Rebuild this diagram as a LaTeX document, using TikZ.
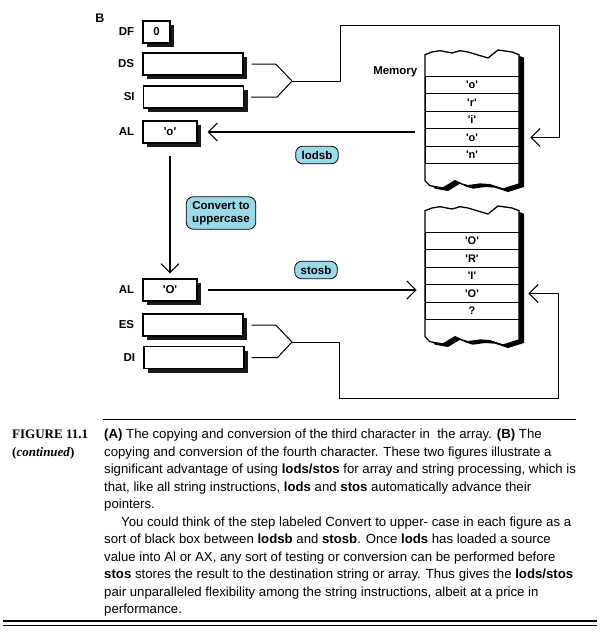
\documentclass[tikz,border=0pt]{standalone}
\usepackage{fontspec}
\setmainfont{Liberation Serif}
\setsansfont{Liberation Sans}
\usepackage{tikz}
\usetikzlibrary{arrows.meta,positioning,shadows}
\definecolor{bubble}{RGB}{153,217,234}
\newcommand{\sq}[1]{\textquotesingle#1\textquotesingle}

\begin{document}
\begin{tikzpicture}[
    x=1pt, y=-1pt,
    reg/.style={rectangle, draw, line width=1.3pt, fill=white, minimum height=22pt, inner sep=0pt, font=\sffamily\bfseries\fontsize{11.5}{13}\selectfont, drop shadow={fill=black, opacity=0.9, shadow xshift=4pt, shadow yshift=-4pt}},
    lbl/.style={font=\sffamily\bfseries\fontsize{11.5}{13}\selectfont, inner sep=0pt},
    cell/.style={rectangle, draw, line width=0.9pt, minimum width=94pt, minimum height=17.5pt, inner sep=0pt, font=\sffamily\bfseries\fontsize{11}{12}\selectfont},
    op/.style={rectangle, rounded corners=7pt, draw, line width=0.8pt, fill=bubble, inner xsep=6pt, inner ysep=4.5pt, align=center, font=\sffamily\bfseries\fontsize{11.5}{13}\selectfont},
    arr/.style={line width=1.7pt, -{Straight Barb[length=9pt, width=18pt, line width=1pt]}},
    wire/.style={line width=1pt},
    wirearr/.style={wire, -{Straight Barb[length=9pt, width=18pt, line width=1pt]}},
]
\useasboundingbox (0,0) rectangle (604,640);

\node[lbl, font=\sffamily\bfseries\fontsize{12.5}{14}\selectfont] (part) at (100,18) {B};

% registers
\node[reg, minimum width=27pt] (df) at (156.5,32) {0};
\node[reg, minimum width=100pt] (ds) at (193,64) {};
\node[reg, minimum width=100pt] (si) at (193.5,97) {};
\node[reg, minimum width=54pt] (al1) at (170,132) {\sq{o}};
\node[reg, minimum width=54pt] (al2) at (170,290) {\sq{O}};
\node[reg, minimum width=100pt] (es) at (193,325) {};
\node[reg, minimum width=100pt] (di) at (194,357.5) {};

\node[lbl, left=8pt of df] {DF};
\node[lbl, left=8pt of ds] {DS};
\node[lbl, left=8pt of si] {SI};
\node[lbl, left=8pt of al1] {AL};
\node[lbl, left=8pt of al2] {AL};
\node[lbl, left=8pt of es] {ES};
\node[lbl, left=8pt of di] {DI};

% memory outlines
\foreach \dy in {0,156}{
  \begin{scope}[shift={(0,\dy)}]
    \fill[black, shift={(5,3)}] (425,54.7) -- (432,52) -- (440,50.7) -- (452,53) -- (460,50.7) -- (468,52) -- (488,58) -- (498,50) -- (512,52) -- (519,54.7)
      -- (519,184) -- (503,189) -- (490,184.7) -- (480,184) -- (468,185.7) -- (462,184) -- (455,180.7) -- (443,188) -- (430,185.7) -- (425,180.7) -- cycle;
    \draw[fill=white, line width=1.3pt] (425,54.7) -- (432,52) -- (440,50.7) -- (452,53) -- (460,50.7) -- (468,52) -- (488,58) -- (498,50) -- (512,52) -- (519,54.7)
      -- (519,184) -- (503,189) -- (490,184.7) -- (480,184) -- (468,185.7) -- (462,184) -- (455,180.7) -- (443,188) -- (430,185.7) -- (425,180.7) -- cycle;
  \end{scope}
}

% memory cells
\node[cell] (m1) at (472,85) {\sq{o}};
\node[cell] (m2) at (472,102.5) {\sq{r}};
\node[cell] (m3) at (472,120) {\sq{i}};
\node[cell] (m4) at (472,137.5) {\sq{o}};
\node[cell] (m5) at (472,155) {\sq{n}};
\node[lbl, anchor=east] (mem) at ([xshift=-7pt, yshift=4pt]m1.north west) {Memory};

\node[cell] (n1) at (472,241) {\sq{O}};
\node[cell] (n2) at (472,258.5) {\sq{R}};
\node[cell] (n3) at (472,276) {\sq{I}};
\node[cell] (n4) at (472,293.5) {\sq{O}};
\node[cell] (n5) at (472,311) {?};

% operations
\node[op] (lodsb) at (317,155) {lodsb};
\node[op] (conv) at (221,213) {Convert to\\uppercase};
\node[op] (stosb) at (316,270) {stosb};

% data flow
\draw[arr, shorten <=10pt, shorten >=10pt] (m4.west |- al1.east) -- (al1.east);
\draw[arr, shorten <=12pt, shorten >=5pt] (al1.south) -- (al2.north);
\draw[arr, shorten <=10pt, shorten >=8pt] (al2.east) -- (al2.east -| n4.west);

% address pairs
\coordinate (jtop) at (292,81);
\draw[wire] ([xshift=8pt]ds.east) -- ++(24,0) -- (jtop);
\draw[wire] ([xshift=7pt]si.east) -- ++(26,0) -- (jtop);
\draw[wirearr] (jtop) -- (340,81) |- (559,25) |- ([xshift=11pt]m4.east);

\coordinate (jbot) at (292,342);
\draw[wire] ([xshift=8pt]es.east) -- ++(24,0) -- (jbot);
\draw[wire] ([xshift=7pt]di.east) -- ++(26,0) -- (jbot);
\draw[wirearr] (jbot) -- (339,342) |- (558,398) |- ([xshift=9pt]n4.east);

% caption
\draw[line width=1pt] (103,419) -- (576,419);
\node[anchor=north west, inner sep=0pt, align=left, font=\bfseries\fontsize{13}{17.3}\selectfont] (fig) at (12,430) {FIGURE 11.1\\(\textit{continued})};
\node[anchor=north west, inner sep=0pt, align=left, font=\sffamily\fontsize{13.2}{17.5}\selectfont] (body) at (104,429) {%
\textbf{(A)} The copying and conversion of the third character in~ the array. \textbf{(B)} The\\
copying and conversion of the fourth character. These two figures illustrate a\\
significant advantage of using \textbf{lods/stos} for array and string processing, which is\\
that, like all string instructions, \textbf{lods} and \textbf{stos} automatically advance their\\
pointers.\\
\hspace*{17pt}You could think of the step labeled Convert to upper- case in each figure as a\\
sort of black box between \textbf{lodsb} and \textbf{stosb}. Once \textbf{lods} has loaded a source\\
value into Al or AX, any sort of testing or conversion can be performed before\\
\textbf{stos} stores the result to the destination string or array. Thus gives the \textbf{lods/stos}\\
pair unparalleled flexibility among the string instructions, albeit at a price in\\
performance.};
\draw[line width=1.2pt] (3,621) -- (597,621);
\draw[line width=1.2pt] (3,625.5) -- (597,625.5);

\end{tikzpicture}
\end{document}
